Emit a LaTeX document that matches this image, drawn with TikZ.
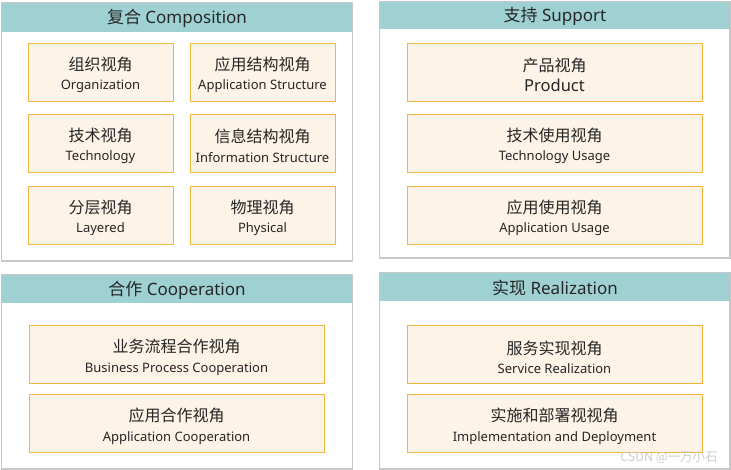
\documentclass[tikz,border=0pt]{standalone}
\usepackage{fontspec}
\setmainfont{Noto Sans}
\newfontfamily\cjk{Noto Sans CJK SC}
\usetikzlibrary{positioning}
\definecolor{headteal}{HTML}{9FD1D3}
\definecolor{panelgray}{HTML}{C8C8C8}
\definecolor{viewfill}{HTML}{FDF3E6}
\definecolor{viewedge}{HTML}{F0B53D}
\definecolor{inkgray}{HTML}{262626}
\newcommand{\viewtext}[2]{{\cjk\fontsize{16}{19}\selectfont\rule{0pt}{19pt}#1}\\{#2}}
\newcommand{\headtext}[2]{{\cjk #1} #2}

\begin{document}
\begin{tikzpicture}[x=1pt,y=-1pt,
		panel/.style={draw=panelgray,line width=1.2pt,fill=white},
		headbar/.style={fill=headteal},
		headlabel/.style={text=inkgray,font=\fontsize{17}{20}\selectfont},
		view/.style={draw=viewedge,fill=viewfill,line width=0.9pt,text=inkgray,align=center,inner sep=0pt,
			minimum height=58pt,font=\fontsize{13}{19.5}\selectfont},
		narrow/.style={view,minimum width=145pt},
		wide/.style={view,minimum width=295pt}]
		\useasboundingbox[fill=white] (0,0) rectangle (731,470);
		% panels
		\draw[panel] (1.5,3) rectangle (352.5,261);
		\fill[headbar] (2,3.5) rectangle (352,32);
		\draw[panel] (379.5,1.5) rectangle (730,258);
		\fill[headbar] (380,2) rectangle (729.5,29);
		\draw[panel] (1.5,275) rectangle (352.5,469);
		\fill[headbar] (2,275.5) rectangle (352,303);
		\draw[panel] (379.5,272.5) rectangle (730,469);
		\fill[headbar] (380,273) rectangle (729.5,301);
		\node[headlabel] (composition) at (177,18) {\headtext{复合}{Composition}};
		\node[headlabel] (support) at (555,16) {\headtext{支持}{Support}};
		\node[headlabel] (cooperation) at (177,290) {\headtext{合作}{Cooperation}};
		\node[headlabel] (realization) at (555,288) {\headtext{实现}{Realization}};
		% composition views
		\node[narrow] (organization) at (100.5,72) {\viewtext{组织视角}{Organization}};
		\node[narrow] (appstructure) at (262.5,72) {\viewtext{应用结构视角}{Application Structure}};
		\node[narrow] (technology) at (100.5,143) {\viewtext{技术视角}{Technology}};
		\node[narrow] (infostructure) at (262.5,143) {\viewtext{信息结构视角}{Information Structure}};
		\node[narrow] (layered) at (100.5,215) {\viewtext{分层视角}{Layered}};
		\node[narrow] (physical) at (262.5,215) {\viewtext{物理视角}{Physical}};
		% support views
		\node[wide] (product) at (554.5,72) {\viewtext{产品视角}{\fontsize{16.5}{19.5}\selectfont Product}};
		\node[wide] (techusage) at (554.5,143) {\viewtext{技术使用视角}{Technology Usage}};
		\node[wide] (appusage) at (554.5,215) {\viewtext{应用使用视角}{Application Usage}};
		% cooperation views
		\node[wide] (bizprocess) at (176.5,354.5) {\viewtext{业务流程合作视角}{Business Process Cooperation}};
		\node[wide] (appcoop) at (176.5,423.5) {\viewtext{应用合作视角}{Application Cooperation}};
		% realization views
		\node[wide] (servicereal) at (554.5,354.5) {\viewtext{服务实现视角}{Service Realization}};
		\node[wide] (deployment) at (554.5,423.5) {\viewtext{实施和部署视视角}{Implementation and Deployment}};
		\node[text=gray!40,font=\cjk\fontsize{12.5}{15}\selectfont] (watermark) at (669,457) {CSDN @一万小石};
\end{tikzpicture}
\end{document}
